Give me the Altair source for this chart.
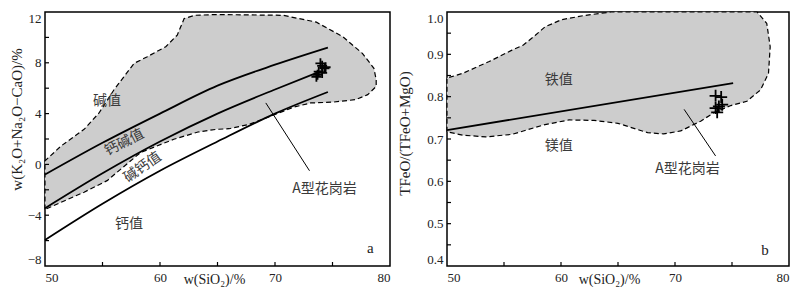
import altair as alt
import pandas as pd

# ---------------- data: panel a ----------------
a_top_x = [50, 55, 60, 65, 70, 74.6]
a_top_y = [-0.8, 1.7, 4.0, 6.2, 7.85, 9.2]
a_mid_x = [50, 55, 60, 65, 70, 74.0]
a_mid_y = [-3.45, -0.7, 1.8, 4.0, 5.9, 7.35]
a_bot_x = [50, 55, 60, 65, 70, 74.6]
a_bot_y = [-5.95, -3.1, -0.5, 1.8, 4.0, 5.7]

a_field_x = [50, 50, 51.4, 53.4, 54.7, 56.0, 57.75, 58.9, 60.5, 61.5, 62.1, 63.0, 64.9,
             70.7, 73.6, 75.9, 77.6, 78.6, 78.8, 78.8, 78.06, 77.0, 75.0, 73.1, 71.6,
             70.0, 67.75, 66.0, 64.9, 63.3, 61.2, 58.3, 55.4, 53.4, 51.4, 50]
a_field_y = [-3.55, 0.28, 1.45, 2.76, 4.05, 5.88, 7.96, 8.48, 9.27, 10.18, 11.48, 11.74, 11.8,
             11.74, 11.2, 10.05, 8.74, 7.57, 6.66, 6.14, 5.49, 5.1, 4.9, 4.84, 4.5,
             3.93, 3.15, 2.81, 2.76, 2.55, 1.98, 0.93, -1.28, -2.19, -2.98, -3.55]

a_pts_x = [74.1, 74.3, 73.7, 73.6, 73.8, 74.4, 74.1, 73.95]
a_pts_y = [7.76, 7.57, 7.05, 6.9, 7.3, 7.65, 7.2, 7.96]

a_ann_x = [69.2, 73.0]
a_ann_y = [4.84, -0.5]

a_lab_text = ["碱值", "钙碱值", "碱钙值", "钙值", "A型花岗岩"]
a_lab_x = [55.4, 56.9, 58.5, 57.3, 74.3]
a_lab_y = [4.97, 1.71, -0.24, -4.67, -1.93]
a_lab_angle = [0, 333, 325, 0, 0]

# ---------------- data: panel b ----------------
b_line_x = [50, 75.1]
b_line_y = [0.721, 0.832]

b_field_x = [50, 50, 51.37, 53.7, 55.7, 56.7, 57.75, 58.6, 60.07, 62.1, 64.4, 77.2, 78.05,
             78.35, 78.2, 77.5, 76.3, 74.9, 73.4, 72.25, 70.5, 69.0, 67.6, 65.0, 62.9,
             60.7, 58.6, 55.7, 53.4, 51.4, 50]
b_field_y = [0.717, 0.844, 0.855, 0.883, 0.910, 0.922, 0.945, 0.965, 0.982, 0.992, 1.0, 1.0, 0.973,
             0.918, 0.855, 0.816, 0.789, 0.779, 0.762, 0.742, 0.719, 0.712, 0.715, 0.737, 0.744,
             0.745, 0.734, 0.711, 0.705, 0.709, 0.717]

b_pts_x = [73.56, 74.05, 74.14, 73.56, 73.85, 73.7]
b_pts_y = [0.802, 0.799, 0.781, 0.773, 0.777, 0.763]

b_ann_x = [70.8, 73.56]
b_ann_y = [0.770, 0.660]

b_lab_text = ["铁值", "镁值", "A型花岗岩"]
b_lab_x = [59.8, 59.8, 71.1]
b_lab_y = [0.84, 0.684, 0.629]

# ticks
x_ticks = [55, 60, 65, 70, 75]
x_labels = [50, 60, 70, 80]
a_y_ticks = [-6, -4, -2, 0, 2, 4, 6, 8, 10]
a_y_labels = [-8, -4, 0, 4, 8, 12]
b_y_ticks = [0.45, 0.5, 0.55, 0.6, 0.65, 0.7, 0.75, 0.8, 0.85, 0.9, 0.95]
b_y_labels = [0.4, 0.5, 0.6, 0.7, 0.8, 0.9, 1.0]

H = 254
SERIF = "Liberation Serif"
CJK = "Noto Sans CJK SC"
FILL = "#cdcdcd"
TXT = "#3a3a3a"

CROSS = "M-1,0L1,0M0,-1L0,1"


def panel(W, field_x, field_y, lines, pts_x, pts_y, ann_x, ann_y, labs, corner,
          y_domain, y_label_vals, y_tick_vals, y_title, y_title_pad, y_title_y,
          x_title_x, y_fmt, pt_size):
    xs = alt.Scale(domain=[50, 80], nice=False, zero=False)
    ys = alt.Scale(domain=y_domain, nice=False, zero=False)
    xax = alt.Axis(values=x_labels, title="w(SiO₂)/%", format="d", titlePadding=-12,
                   labelPadding=5, titleX=x_title_x, titleFontSize=14)
    yax = alt.Axis(values=y_label_vals, title=y_title, format=y_fmt, labelFlush=True,
                   labelPadding=4, titlePadding=y_title_pad, titleY=y_title_y)
    X = lambda f: alt.X(f, scale=xs, axis=xax)
    Y = lambda f: alt.Y(f, scale=ys, axis=yax)

    layers = []
    fdf = pd.DataFrame({"x": field_x, "y": field_y, "o": list(range(len(field_x)))})
    layers.append(alt.Chart(fdf).mark_line(fill=FILL, stroke="black", strokeDash=[5, 3],
                                           strokeWidth=1.2).encode(
        x=X("x:Q"), y=Y("y:Q"), order="o:Q"))
    for lx, ly in lines:
        ldf = pd.DataFrame({"x": lx, "y": ly})
        layers.append(alt.Chart(ldf).mark_line(color="black", strokeWidth=1.8,
                                               interpolate="monotone").encode(
            x=X("x:Q"), y=Y("y:Q")))
    adf = pd.DataFrame({"x": ann_x, "y": ann_y})
    layers.append(alt.Chart(adf).mark_line(color="black", strokeWidth=1).encode(
        x=X("x:Q"), y=Y("y:Q")))
    pdf = pd.DataFrame({"x": pts_x, "y": pts_y})
    layers.append(alt.Chart(pdf).mark_point(shape=CROSS, filled=False, color="black",
                                            strokeWidth=1.8, size=pt_size, opacity=1).encode(
        x=X("x:Q"), y=Y("y:Q")))
    tdf = pd.DataFrame(labs)
    layers.append(alt.Chart(tdf).mark_text(font=CJK, fontSize=14, color=TXT).encode(
        x=X("x:Q"), y=Y("y:Q"), text="t:N", angle=alt.Angle("a:Q", scale=None)))
    cdf = pd.DataFrame({"x": [corner[0]], "y": [corner[1]], "t": [corner[2]]})
    layers.append(alt.Chart(cdf).mark_text(font=SERIF, fontSize=15, color="#222").encode(
        x=X("x:Q"), y=Y("y:Q"), text="t:N"))
    # inward ticks
    xt = pd.DataFrame({"x": x_ticks})
    layers.append(alt.Chart(xt).mark_rule(color="black", strokeWidth=1.2).encode(
        x=X("x:Q"), y=alt.value(H), y2=alt.value(H - 4)))
    yt = pd.DataFrame({"y": y_tick_vals})
    layers.append(alt.Chart(yt).mark_rule(color="black", strokeWidth=1.2).encode(
        y=Y("y:Q"), x=alt.value(0), x2=alt.value(4)))
    return alt.layer(*layers).properties(width=W, height=H)


pa = panel(345, a_field_x, a_field_y,
           [(a_top_x, a_top_y), (a_mid_x, a_mid_y), (a_bot_x, a_bot_y)],
           a_pts_x, a_pts_y, a_ann_x, a_ann_y,
           {"x": a_lab_x, "y": a_lab_y, "t": a_lab_text, "a": a_lab_angle},
           (78.3, -6.6, "a"), [-8, 12], a_y_labels, a_y_ticks,
           "w(K₂O+Na₂O−CaO)/%", 3, 107, 169, "d", 100)

pb = panel(342, b_field_x, b_field_y, [(b_line_x, b_line_y)],
           b_pts_x, b_pts_y, b_ann_x, b_ann_y,
           {"x": b_lab_x, "y": b_lab_y, "t": b_lab_text, "a": [0, 0, 0]},
           (77.9, 0.437, "b"), [0.4, 1.0], b_y_labels, b_y_ticks,
           "TFeO/(TFeO+MgO)", 14, 121, 162, ".1f", 144)

chart = alt.hconcat(pa, pb, spacing=6).properties(padding=0).configure_view(
    stroke="black", strokeWidth=1.5
).configure_axis(
    ticks=False, domain=False, grid=False,
    labelFont=SERIF, labelFontSize=13, labelColor="#222",
    titleFont=SERIF, titleFontSize=15, titleFontWeight="normal", titleColor="#222"
)

chart.save("out.html", embed_options={"renderer": "svg", "actions": False})
